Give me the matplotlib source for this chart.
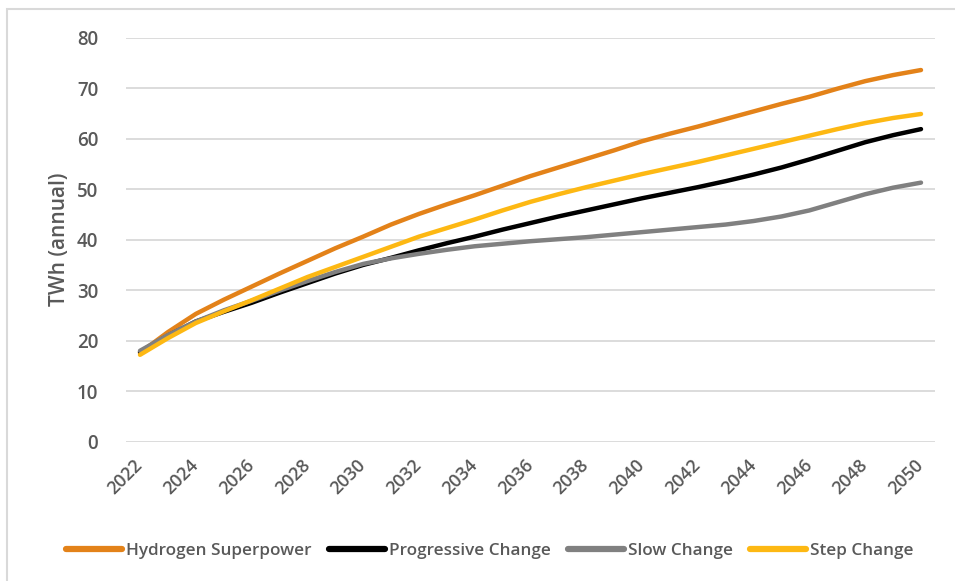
import matplotlib.pyplot as plt
from matplotlib.patches import Rectangle

plt.rcParams["font.family"] = ["Open Sans", "DejaVu Sans"]

years = list(range(2022, 2051))

hydrogen_superpower = [17.6, 21.7, 25.3, 28.1, 30.7, 33.3, 35.8, 38.3, 40.6, 43.0,
                       45.1, 47.0, 48.8, 50.7, 52.6, 54.3, 56.0, 57.7, 59.5, 61.0,
                       62.4, 63.9, 65.4, 66.9, 68.3, 69.9, 71.4, 72.6, 73.6]
progressive_change = [17.8, 21.0, 23.8, 25.7, 27.5, 29.5, 31.4, 33.3, 35.0, 36.4,
                      37.9, 39.3, 40.6, 42.0, 43.3, 44.6, 45.8, 47.0, 48.2, 49.3,
                      50.4, 51.6, 52.9, 54.3, 55.9, 57.6, 59.3, 60.7, 61.9]
slow_change = [18.0, 21.1, 23.8, 26.0, 27.9, 29.9, 31.8, 33.6, 35.2, 36.3,
               37.2, 38.0, 38.7, 39.2, 39.7, 40.1, 40.5, 41.0, 41.5, 42.0,
               42.5, 43.0, 43.7, 44.6, 45.8, 47.4, 49.0, 50.3, 51.3]
step_change = [17.2, 20.5, 23.5, 25.8, 28.0, 30.3, 32.6, 34.6, 36.6, 38.6,
               40.6, 42.3, 44.0, 45.8, 47.5, 49.0, 50.4, 51.7, 53.0, 54.2,
               55.4, 56.7, 58.0, 59.3, 60.6, 61.9, 63.1, 64.1, 64.9]

series = [
    ("Hydrogen Superpower", hydrogen_superpower, "#E38219"),
    ("Progressive Change", progressive_change, "#000000"),
    ("Slow Change", slow_change, "#808080"),
    ("Step Change", step_change, "#FDB813"),
]

text_grey = "#595959"

fig = plt.figure(figsize=(9.55, 5.81), dpi=100)
ax = fig.add_axes([0.132, 0.2398, 0.847, 0.6953])

for name, vals, col in series:
    ax.plot(years, vals, color=col, lw=3.2, label=name,
            solid_capstyle="round", solid_joinstyle="round")

ax.set_ylim(0, 80)
ax.set_xlim(2021.5, 2050.5)
ax.set_yticks(range(0, 81, 10))
ax.set_xticks(years[::2])
ax.set_xticklabels([str(y) for y in years[::2]], rotation=45,
                   ha="right", va="center", rotation_mode="anchor")
ax.grid(axis="y", color="#D9D9D9", lw=1.3)
ax.set_axisbelow(True)
for s in ax.spines.values():
    s.set_visible(False)
ax.tick_params(axis="both", length=0, colors=text_grey)
ax.tick_params(axis="x", labelsize=13, pad=15)
ax.tick_params(axis="y", labelsize=13.5, pad=20)
for lbl in ax.get_xticklabels() + ax.get_yticklabels():
    lbl.set_fontweight("semibold")

ax.set_ylabel("TWh (annual)", color=text_grey, fontsize=15, fontweight="semibold",
              labelpad=5)

leg = fig.legend(loc="center", bbox_to_anchor=(0.513, 0.052), ncol=4,
                 frameon=False, handlelength=3.3,
                 handletextpad=0.22, columnspacing=1.0,
                 prop={"size": 12.3, "weight": "semibold"})
for t in leg.get_texts():
    t.set_color(text_grey)
for h in leg.get_lines():
    h.set_linewidth(4.5)

# thin frame around the chart area
fig.patches.append(Rectangle((7 / 955, -0.1), 1.2, 1 - 9 / 581 + 0.1,
                             transform=fig.transFigure, fill=False,
                             edgecolor="#D9D9D9", lw=1.5))

fig.savefig("out.png", dpi=100)
